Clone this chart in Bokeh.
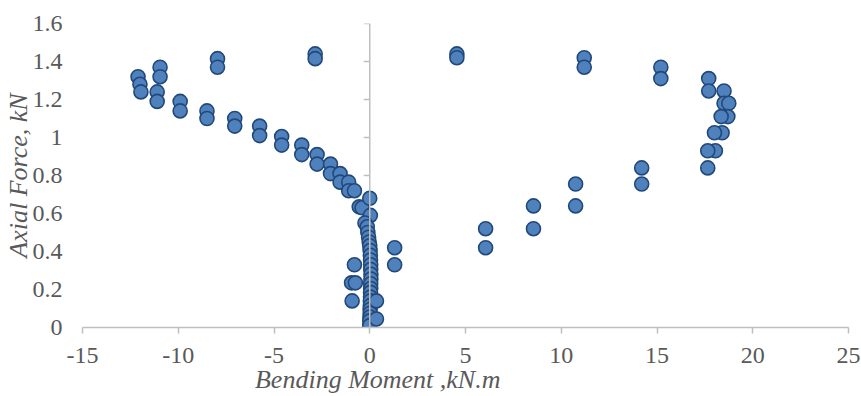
import math

from bokeh.plotting import figure
from bokeh.models import (ColumnDataSource, Span, FixedTicker,
                          NumeralTickFormatter, Range1d)
from bokeh.embed import file_html
from bokeh.resources import INLINE

# Interaction diagram points: bending moment (kN.m) against axial force (kN)
left_moment = [-12.1, -12.0, -11.95, -10.95, -10.95, -11.1, -11.1, -9.9, -9.9,
               -8.5, -8.5, -7.05, -7.05, -5.75, -5.75, -4.6, -4.6, -3.55, -3.55,
               -2.75, -2.75, -2.05, -2.05, -1.55, -1.55, -1.1, -1.1, -0.8,
               -0.55, -0.4, -7.95, -7.95, -2.85, -2.85]
left_axial = [1.32, 1.28, 1.24, 1.37, 1.32, 1.24, 1.19, 1.19, 1.14,
              1.14, 1.10, 1.10, 1.06, 1.06, 1.01, 1.005, 0.96, 0.96, 0.91,
              0.91, 0.86, 0.86, 0.81, 0.81, 0.765, 0.765, 0.72, 0.72,
              0.635, 0.63, 1.415, 1.37, 1.44, 1.415]

right_moment = [4.55, 4.55, 11.2, 11.2, 15.2, 15.2, 17.7, 17.7, 18.5, 18.5,
                18.75, 18.7, 18.35, 18.4, 18.0, 18.05, 17.65, 17.65, 14.2,
                14.2, 10.75, 10.75, 8.55, 8.55, 6.05, 6.05, 1.3, 1.3]
right_axial = [1.44, 1.42, 1.42, 1.37, 1.37, 1.31, 1.31, 1.245, 1.245, 1.18,
               1.18, 1.11, 1.11, 1.025, 1.025, 0.93, 0.93, 0.84, 0.84,
               0.755, 0.755, 0.64, 0.64, 0.52, 0.52, 0.42, 0.42, 0.33]

core_moment = [0.0, 0.03, -0.25, -0.13, -0.1, -0.06, -0.03, 0.0, 0.02, 0.03,
               0.04, 0.05, 0.05, 0.06, 0.06, 0.05, 0.05, 0.04, 0.04, 0.03,
               0.03, 0.02, 0.02, 0.01, 0.0, 0.0,
               -0.8, -0.95, -0.75, -0.92, 0.35, 0.35]
core_axial = [0.68, 0.59, 0.55, 0.53, 0.50, 0.475, 0.45, 0.43, 0.405, 0.38,
              0.355, 0.33, 0.305, 0.28, 0.255, 0.23, 0.205, 0.185, 0.16, 0.14,
              0.115, 0.095, 0.075, 0.055, 0.035, 0.01,
              0.33, 0.235, 0.235, 0.14, 0.14, 0.045]

x_ticks = [-15, -10, -5, 0, 5, 10, 15, 20, 25]
y_ticks = [0, 0.2, 0.4, 0.6, 0.8, 1.0, 1.2, 1.4, 1.6]

x_title = "Bending Moment ,kN.m"
y_title = "Axial Force, kN"

AXIS_GREY = "#bfbfbf"
TEXT_GREY = "#595959"
SERIF = "Liberation Serif"

source = ColumnDataSource(data=dict(
    moment=left_moment + right_moment + core_moment,
    axial=left_axial + right_axial + core_axial,
))

p = figure(width=861, height=396, output_backend="svg", toolbar_location=None,
           x_range=Range1d(x_ticks[0], x_ticks[-1]),
           y_range=Range1d(y_ticks[0], y_ticks[-1]),
           min_border_left=81, min_border_right=13,
           min_border_top=23, min_border_bottom=69)
p.outline_line_color = None
p.grid.visible = False
p.background_fill_color = "white"
p.border_fill_color = "white"

# horizontal axis along N = 0
xa = p.xaxis[0]
xa.ticker = FixedTicker(ticks=x_ticks)
xa.formatter = NumeralTickFormatter(format="0")
xa.axis_line_color = AXIS_GREY
xa.axis_line_width = 1.5
xa.major_tick_line_color = AXIS_GREY
xa.major_tick_line_width = 1.5
xa.major_tick_out = 6
xa.major_tick_in = 0
xa.minor_tick_line_color = None
xa.major_label_standoff = 14
xa.major_label_text_font = SERIF
xa.major_label_text_font_size = "24px"
xa.major_label_text_color = TEXT_GREY
# the title sits left of the axis centre; trailing no-break spaces shift it
xa.axis_label = x_title + "\u00a0" * 27
xa.axis_label_standoff = -1
xa.axis_label_text_font = SERIF
xa.axis_label_text_font_style = "italic"
xa.axis_label_text_font_size = "26px"
xa.axis_label_text_color = TEXT_GREY

# vertical axis labels sit at the left edge, the axis line itself at M = 0
ya = p.yaxis[0]
ya.ticker = FixedTicker(ticks=y_ticks)
ya.formatter = NumeralTickFormatter(format="0.[0]")
ya.axis_line_color = None
ya.major_tick_line_color = None
ya.minor_tick_line_color = None
ya.major_tick_out = 0
ya.major_tick_in = 0
ya.major_label_standoff = 20
ya.major_label_text_font = SERIF
ya.major_label_text_font_size = "24px"
ya.major_label_text_color = TEXT_GREY
ya.axis_label = y_title
ya.axis_label_standoff = -3
ya.axis_label_text_font = SERIF
ya.axis_label_text_font_style = "italic"
ya.axis_label_text_font_size = "26px"
ya.axis_label_text_color = TEXT_GREY

p.add_layout(Span(location=0, dimension="height", line_color=AXIS_GREY,
                  line_width=1.5))
p.ray(x=[0] * len(y_ticks), y=y_ticks, length=6, length_units="screen",
      angle=math.pi, line_color=AXIS_GREY, line_width=1.5)

p.scatter(x="moment", y="axial", source=source, size=14,
          fill_color="#4f81bd", line_color="#22487a", line_width=1.6)

open("out.html", "w").write(file_html(p, INLINE))
